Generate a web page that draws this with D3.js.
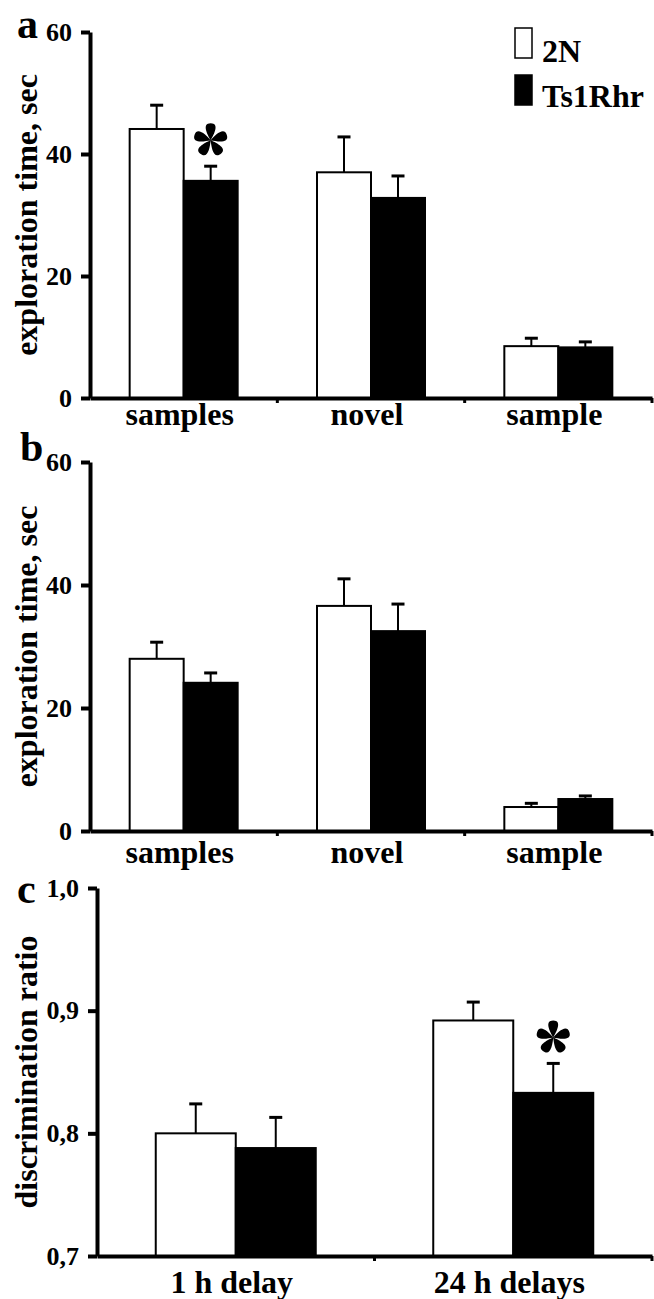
<!DOCTYPE html>
<html>
<head>
<meta charset="utf-8">
<script src="https://cdn.jsdelivr.net/npm/d3@7"></script>
<style>
  body { margin: 0; background: #fff; }
  svg { display: block; }
  text { font-family: "Liberation Serif", "Times New Roman", serif; font-weight: bold; fill: #000; }
</style>
</head>
<body>
<div class="chart"></div>
<script>
// data
var groups = ["2N", "Ts1Rhr"];
var catsAB = ["samples", "novel", "sample"];
var catsC = ["1 h delay", "24 h delays"];

var aMean2N = [44.1, 37.0, 8.5];
var aSem2N = [3.9, 5.8, 1.3];
var aMeanTs = [35.6, 32.8, 8.3];
var aSemTs = [2.4, 3.6, 0.9];

var bMean2N = [28.0, 36.6, 3.9];
var bSem2N = [2.7, 4.4, 0.6];
var bMeanTs = [24.1, 32.5, 5.2];
var bSemTs = [1.6, 4.4, 0.5];

var cMean2N = [0.800, 0.892];
var cSem2N = [0.024, 0.015];
var cMeanTs = [0.788, 0.833];
var cSemTs = [0.025, 0.024];

var ticksAB = [0, 20, 40, 60];
var ticksC = [0.7, 0.8, 0.9, 1.0];

// significant: [category, group]
var starsA = [["samples", "Ts1Rhr"]];
var starsC = [["24 h delays", "Ts1Rhr"]];

var svgWidth = 654, svgHeight = 1299;

var svg = d3.select(".chart")
  .append("svg")
  .attr("width", svgWidth)
  .attr("height", svgHeight);

function rows(cats, m1, s1, m2, s2) {
  var out = [];
  cats.forEach(function(c, i) {
    out.push({cat: c, group: groups[0], mean: m1[i], sem: s1[i]});
    out.push({cat: c, group: groups[1], mean: m2[i], sem: s2[i]});
  });
  return out;
}

// petal-shaped asterisk like the one in the figure
function asteriskPath(L, w) {
  var p = d3.path();
  for (var k = 0; k < 5; k++) {
    var a = k * 2 * Math.PI / 5;
    var rot = function(x, y) {
      return [x * Math.cos(a) - y * Math.sin(a), x * Math.sin(a) + y * Math.cos(a)];
    };
    var p0 = rot(0, 0), c1 = rot(-w * 0.5, -L * 0.35), c2 = rot(-w * 1.3, -L), e = rot(0, -L);
    var c3 = rot(w * 1.3, -L), c4 = rot(w * 0.5, -L * 0.35);
    p.moveTo(p0[0], p0[1]);
    p.bezierCurveTo(c1[0], c1[1], c2[0], c2[1], e[0], e[1]);
    p.bezierCurveTo(c3[0], c3[1], c4[0], c4[1], p0[0], p0[1]);
  }
  return p.toString();
}

function drawPanel(opt) {
  var g = svg.append("g");

  var x = d3.scaleBand()
    .domain(opt.cats)
    .range([opt.x0, opt.x1]);

  var xSub = d3.scaleBand()
    .domain(groups)
    .range([-opt.barW, opt.barW]);

  var y = d3.scaleLinear()
    .domain(opt.domain)
    .range([opt.y0, opt.y1]);

  var data = opt.data;

  // bars
  g.selectAll("rect.bar")
    .data(data)
    .enter()
    .append("rect")
    .attr("class", "bar")
    .attr("x", d => x(d.cat) + x.bandwidth() / 2 + xSub(d.group))
    .attr("width", xSub.bandwidth())
    .attr("y", d => y(d.mean))
    .attr("height", d => y(opt.domain[0]) - y(d.mean))
    .attr("fill", d => d.group === "2N" ? "#fff" : "#000")
    .attr("stroke", "#000")
    .attr("stroke-width", 2);

  // error bars (upper only)
  var cx = d => x(d.cat) + x.bandwidth() / 2 + xSub(d.group) + xSub.bandwidth() / 2;
  g.selectAll("line.err")
    .data(data)
    .enter()
    .append("line")
    .attr("class", "err")
    .attr("x1", cx).attr("x2", cx)
    .attr("y1", d => y(d.mean))
    .attr("y2", d => y(d.mean + d.sem))
    .attr("stroke", "#000")
    .attr("stroke-width", 2);

  g.selectAll("line.cap")
    .data(data)
    .enter()
    .append("line")
    .attr("class", "cap")
    .attr("x1", d => cx(d) - 6.5).attr("x2", d => cx(d) + 6.5)
    .attr("y1", d => y(d.mean + d.sem))
    .attr("y2", d => y(d.mean + d.sem))
    .attr("stroke", "#000")
    .attr("stroke-width", 3);

  // asterisks
  var starData = data.filter(d => opt.stars.some(s => s[0] === d.cat && s[1] === d.group));
  g.selectAll("path.star")
    .data(starData)
    .enter()
    .append("path")
    .attr("class", "star")
    .attr("d", asteriskPath(17, 7))
    .attr("transform", d => `translate(${cx(d)}, ${y(d.mean + d.sem) - 26})`)
    .attr("fill", "#000");

  // y axis
  var yAxis = g.append("g")
    .attr("transform", `translate(${opt.x0}, 0)`)
    .call(d3.axisLeft(y)
      .tickValues(opt.ticks)
      .tickFormat(opt.fmt)
      .tickSize(9)
      .tickSizeOuter(0)
      .tickPadding(9));
  yAxis.selectAll("path, line").attr("stroke", "#000").attr("stroke-width", 4);
  yAxis.selectAll("text").style("font-size", "26px");

  // x axis with category labels
  var xAxis = g.append("g")
    .attr("transform", `translate(0, ${opt.y0})`)
    .call(d3.axisBottom(x)
      .tickSize(0)
      .tickSizeOuter(0)
      .tickPadding(opt.labelPad));
  xAxis.select("path").attr("stroke", "#000").attr("stroke-width", 4);
  xAxis.selectAll("text").style("font-size", "32px").attr("dx", -4);

  // small knobs at the category boundaries
  g.selectAll("line.knob")
    .data(opt.cats)
    .enter()
    .append("line")
    .attr("class", "knob")
    .attr("x1", d => x(d) + x.step())
    .attr("x2", d => x(d) + x.step())
    .attr("y1", opt.y0)
    .attr("y2", opt.y0 + 5)
    .attr("stroke", "#000")
    .attr("stroke-width", 3);

  // y label
  g.append("text")
    .attr("transform", `translate(37, ${(opt.y0 + opt.y1) / 2}) rotate(-90)`)
    .attr("text-anchor", "middle")
    .style("font-size", "32px")
    .text(opt.ylabel);

  // panel letter
  g.append("text")
    .attr("x", opt.letterX)
    .attr("y", opt.letterY)
    .style("font-size", "42px")
    .text(opt.letter);

  return g;
}

drawPanel({
  cats: catsAB, data: rows(catsAB, aMean2N, aSem2N, aMeanTs, aSemTs),
  x0: 90, x1: 652, y0: 398, y1: 32, domain: [0, 60], ticks: ticksAB,
  fmt: d3.format("d"), barW: 54, labelPad: 4, stars: starsA,
  ylabel: "exploration time, sec", letter: "a", letterX: 17, letterY: 38
});

drawPanel({
  cats: catsAB, data: rows(catsAB, bMean2N, bSem2N, bMeanTs, bSemTs),
  x0: 90, x1: 652, y0: 831, y1: 462, domain: [0, 60], ticks: ticksAB,
  fmt: d3.format("d"), barW: 54, labelPad: 9, stars: [],
  ylabel: "exploration time, sec", letter: "b", letterX: 20, letterY: 461
});

drawPanel({
  cats: catsC, data: rows(catsC, cMean2N, cSem2N, cMeanTs, cSemTs),
  x0: 97, x1: 652, y0: 1256, y1: 888, domain: [0.7, 1.0], ticks: ticksC,
  fmt: d => d3.format(".1f")(d).replace(".", ","), barW: 80, labelPad: 14, stars: starsC,
  ylabel: "discrimination ratio", letter: "c", letterX: 17, letterY: 903
});

// legend
var legend = svg.append("g").attr("transform", "translate(515, 28)");
legend.selectAll("rect")
  .data(groups)
  .enter()
  .append("rect")
  .attr("x", 0)
  .attr("y", (d, i) => i * 47)
  .attr("width", 17)
  .attr("height", 30)
  .attr("fill", d => d === "2N" ? "#fff" : "#000")
  .attr("stroke", "#000")
  .attr("stroke-width", 1.5);
legend.selectAll("text")
  .data(groups)
  .enter()
  .append("text")
  .attr("x", 27)
  .attr("y", (d, i) => 34 + i * 45)
  .style("font-size", "32px")
  .text(d => d);
</script>
</body>
</html>
